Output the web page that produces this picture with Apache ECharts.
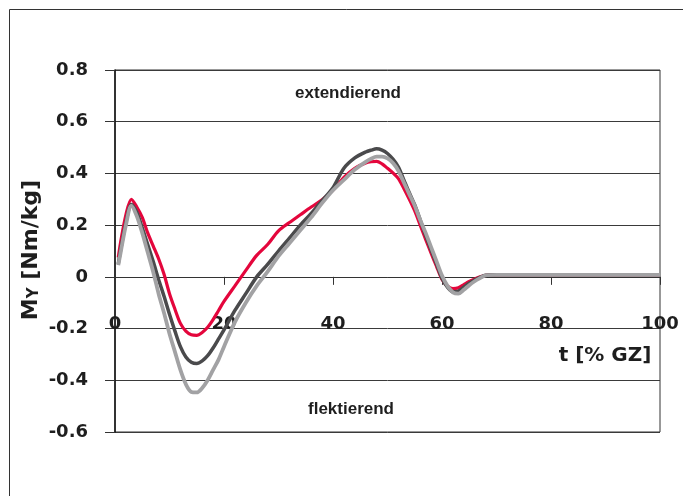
<!DOCTYPE html>
<html>
<head>
<meta charset="utf-8">
<script src="https://cdn.jsdelivr.net/npm/echarts@6/dist/echarts.min.js"></script>
<style>
html,body{margin:0;padding:0;background:#fff;}
#chart{width:683px;height:496px;}
</style>
</head>
<body>
<div id="chart"></div>
<script>
// t [% GZ]
var tValues = [0.6, 1, 2, 3, 4, 5, 6, 7, 8, 9, 10, 11, 12, 13, 14, 15, 16, 17, 18, 19, 20,
  22, 24, 26, 28, 30, 32, 34, 36, 38, 40, 42, 44, 46, 47, 48, 49, 50, 51, 52, 53, 54, 55,
  56, 57, 58, 59, 60, 61, 62, 63, 64, 65, 66, 67, 68, 70, 75, 80, 85, 90, 95, 100];
// red curve
var redValues = [0.075, 0.13, 0.24, 0.30, 0.27, 0.23, 0.17, 0.12, 0.07, 0.01, -0.065, -0.125, -0.18, -0.21, -0.224, -0.226, -0.215, -0.195, -0.165, -0.13, -0.095,
  -0.035, 0.025, 0.083, 0.125, 0.178, 0.21, 0.24, 0.27, 0.298, 0.335, 0.385, 0.42, 0.44, 0.445, 0.447, 0.437, 0.42, 0.402, 0.38, 0.342, 0.30, 0.255,
  0.2, 0.145, 0.092, 0.04, -0.01, -0.035, -0.045, -0.042, -0.03, -0.018, -0.008, 0.0, 0.006, 0.008, 0.008, 0.008, 0.008, 0.008, 0.008, 0.008];
// dark grey curve
var darkValues = [0.05, 0.10, 0.21, 0.28, 0.25, 0.19, 0.125, 0.06, -0.01, -0.075, -0.145, -0.21, -0.27, -0.31, -0.33, -0.335, -0.325, -0.305, -0.275, -0.24, -0.205,
  -0.13, -0.065, 0.0, 0.048, 0.1, 0.15, 0.2, 0.245, 0.295, 0.345, 0.42, 0.46, 0.483, 0.49, 0.495, 0.49, 0.477, 0.455, 0.425, 0.375, 0.325, 0.278,
  0.22, 0.16, 0.105, 0.05, -0.005, -0.04, -0.058, -0.055, -0.04, -0.025, -0.012, -0.002, 0.006, 0.008, 0.008, 0.008, 0.008, 0.008, 0.008, 0.008];
// light grey curve
var lightValues = [0.045, 0.09, 0.20, 0.275, 0.235, 0.17, 0.095, 0.02, -0.065, -0.14, -0.22, -0.29, -0.36, -0.415, -0.445, -0.447, -0.43, -0.40, -0.36, -0.32, -0.27,
  -0.175, -0.1, -0.035, 0.02, 0.08, 0.13, 0.18, 0.23, 0.285, 0.335, 0.375, 0.415, 0.445, 0.457, 0.465, 0.465, 0.458, 0.44, 0.41, 0.365, 0.32, 0.275,
  0.22, 0.17, 0.115, 0.06, 0.005, -0.035, -0.06, -0.065, -0.05, -0.032, -0.017, -0.005, 0.006, 0.008, 0.008, 0.008, 0.008, 0.008, 0.008, 0.008];

var xTicks = [0, 20, 40, 60, 80, 100];
var yTicks = [-0.6, -0.4, -0.2, 0, 0.2, 0.4, 0.6, 0.8];

function pairs(vals) {
  return tValues.map(function (t, i) { return [t, vals[i]]; });
}

var numFont = { fontFamily: 'DejaVu Sans', fontWeight: 'bold', fontSize: 18, color: '#1e1e1e' };
var wordFont = 'bold 17px "Liberation Sans", Arial, sans-serif';

var chart = echarts.init(document.getElementById('chart'), null, { renderer: 'canvas' });
chart.setOption({
  animation: false,
  backgroundColor: '#fff',
  grid: { left: 115, right: 23, top: 70, bottom: 64, show: true, borderColor: '#333', borderWidth: 1 },
  xAxis: {
    type: 'value', min: xTicks[0], max: xTicks[xTicks.length - 1], interval: 20,
    axisLine: { show: true, onZero: true, lineStyle: { color: '#333', width: 1 } },
    axisTick: { show: true, inside: false, length: 8, lineStyle: { color: '#333' } },
    axisLabel: Object.assign({ margin: -117 }, numFont),
    splitLine: { show: false }
  },
  yAxis: {
    type: 'value', min: yTicks[0], max: yTicks[yTicks.length - 1], interval: 0.2,
    axisLine: { show: true, lineStyle: { color: '#111', width: 1.5 } },
    axisTick: { show: true, inside: false, length: 10, lineStyle: { color: '#333' } },
    axisLabel: Object.assign({
      margin: 27,
      formatter: function (v) { return Math.abs(v) < 1e-9 ? '0' : v.toFixed(1); }
    }, numFont),
    splitLine: { show: true, lineStyle: { color: '#3a3a3a', width: 1 } }
  },
  graphic: [
    { type: 'rect', shape: { x: 9.5, y: 9.5, width: 700, height: 500 }, style: { fill: 'none', stroke: '#333', lineWidth: 1 }, silent: true, z: -1 },
    { type: 'text', x: 31, y: 250, rotation: Math.PI / 2,
      style: {
        text: '{m|M}{s|Y}{m| [Nm/kg]}', align: 'center', verticalAlign: 'middle',
        rich: {
          m: { fontFamily: 'DejaVu Sans', fontWeight: 'bold', fontSize: 22, fill: '#1e1e1e', verticalAlign: 'bottom' },
          s: { fontFamily: 'DejaVu Sans', fontWeight: 'bold', fontSize: 15, fill: '#1e1e1e', verticalAlign: 'bottom' }
        }
      } },
    { type: 'text', x: 605, y: 356, style: { text: 't [% GZ]', font: 'bold 20px "DejaVu Sans", sans-serif', fill: '#1e1e1e', align: 'center', verticalAlign: 'middle' } },
    { type: 'text', x: 348, y: 93, style: { text: 'extendierend', font: wordFont, fill: '#1e1e1e', align: 'center', verticalAlign: 'middle' } },
    { type: 'text', x: 351, y: 409, style: { text: 'flektierend', font: wordFont, fill: '#1e1e1e', align: 'center', verticalAlign: 'middle' } }
  ],
  series: [
    { type: 'line', data: pairs(redValues), showSymbol: false, smooth: 0.3, lineStyle: { color: '#e4063c', width: 3.2 }, z: 2 },
    { type: 'line', data: pairs(darkValues), showSymbol: false, smooth: 0.3, lineStyle: { color: '#4a4a4c', width: 3.5 }, z: 3 },
    { type: 'line', data: pairs(lightValues), showSymbol: false, smooth: 0.3, lineStyle: { color: '#a2a2a4', width: 3.8 }, z: 4 }
  ]
});
</script>
</body>
</html>
